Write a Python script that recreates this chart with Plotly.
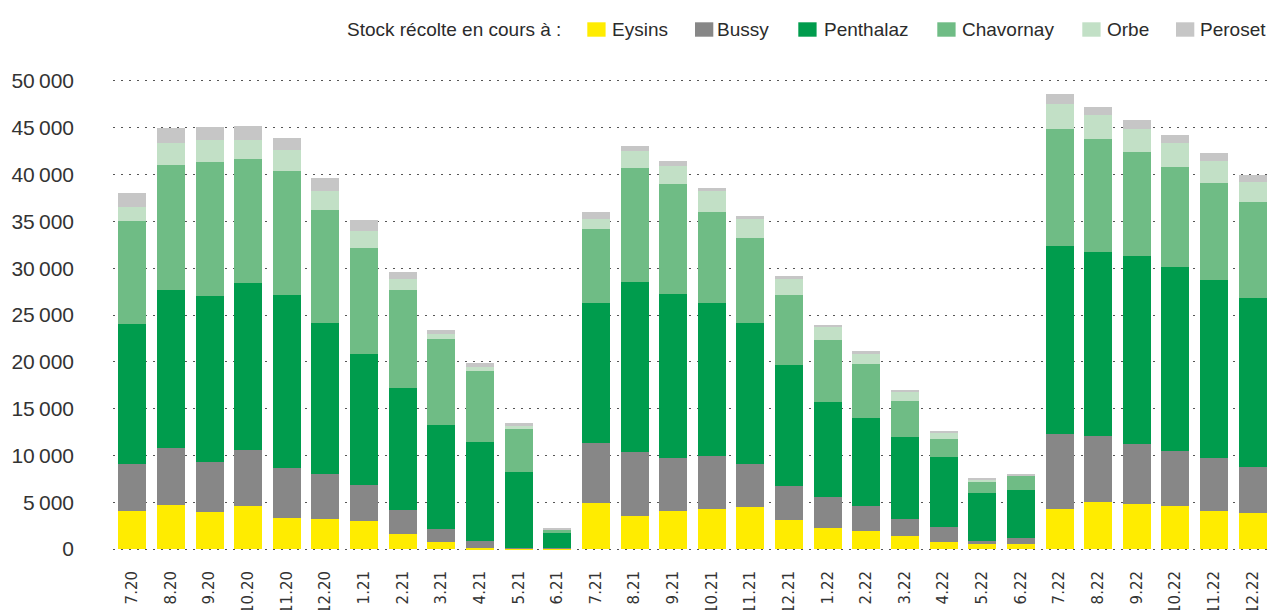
import plotly.graph_objects as go

months = ["7.20", "8.20", "9.20", "10.20", "11.20", "12.20", "1.21", "2.21", "3.21", "4.21", "5.21", "6.21",
          "7.21", "8.21", "9.21", "10.21", "11.21", "12.21", "1.22", "2.22", "3.22", "4.22", "5.22", "6.22",
          "7.22", "8.22", "9.22", "10.22", "11.22", "12.22"]

eysins = [4020, 4660, 3920, 4560, 3280, 3170, 2960, 1570, 710, 150, 50, 50,
          4880, 3490, 4020, 4240, 4450, 3060, 2210, 1890, 1350, 710, 500, 500,
          4240, 4980, 4770, 4560, 4020, 3810]
bussy = [5020, 6190, 5340, 5980, 5340, 4800, 3840, 2560, 1390, 670, 50, 50,
         6410, 6830, 5660, 5660, 4590, 3630, 3310, 2670, 1820, 1600, 320, 640,
         8010, 7050, 6410, 5870, 5660, 4910]
penthalaz = [14950, 16870, 17730, 17830, 18480, 16130, 13990, 13030, 11110, 10570, 8090, 1570,
             14950, 18160, 17520, 16340, 15060, 12930, 10140, 9400, 8760, 7480, 5130, 5130,
             20070, 19650, 20080, 19650, 19010, 18050]
chavornay = [11010, 13350, 14310, 13250, 13240, 12070, 11320, 10470, 9180, 7590, 4590, 430,
             7900, 12180, 11750, 9720, 9080, 7470, 6630, 5760, 3840, 1920, 1170, 1600,
             12500, 12070, 11100, 10680, 10360, 10250]
orbe = [1490, 2350, 2350, 2030, 2240, 2030, 1820, 1170, 540, 420, 430, 40,
        1070, 1810, 1920, 2240, 2130, 1820, 1380, 1180, 1070, 750, 320, 30,
        2670, 2560, 2460, 2560, 2350, 2140]
peroset = [1500, 1500, 1390, 1500, 1280, 1390, 1170, 750, 430, 430, 210, 70,
           750, 540, 530, 320, 210, 210, 220, 210, 110, 110, 50, 80,
           1070, 860, 960, 860, 850, 750]

series_names = ["Eysins", "Bussy", "Penthalaz", "Chavornay", "Orbe", "Peroset"]
series_values = [eysins, bussy, penthalaz, chavornay, orbe, peroset]
series_colors = ["#FFEC00", "#878787", "#009C4D", "#6FBC85", "#C2E0C6", "#C6C6C6"]

legend_title = "Stock récolte en cours à :"

y_tickvals = [0, 5000, 10000, 15000, 20000, 25000, 30000, 35000, 40000, 45000, 50000]
y_ticktext = ["0", "5\u2009000", "10\u2009000", "15\u2009000", "20\u2009000", "25\u2009000",
              "30\u2009000", "35\u2009000", "40\u2009000", "45\u2009000", "50\u2009000"]

W, H = 1272, 610
ML, MR, MT, MB = 113, 0, 79, 59
PW, PH = W - ML - MR, H - MT - MB
TEXT_FONT = "Liberation Sans"


def px_x(px):
    return (px - ML) / PW


def px_y(py):
    return (H - MB - py) / PH


fig = go.Figure()
for name, vals, col in zip(series_names, series_values, series_colors):
    fig.add_trace(go.Bar(x=months, y=vals, name=name, marker=dict(color=col, line=dict(width=0)),
                         showlegend=False, hoverinfo="skip"))

# custom legend (swatches + labels) placed like the original
sw_left = [587.3, 695.0, 798.3, 937.3, 1082.3, 1176.0]
txt_left = [610.0, 714.5, 821.5, 959.5, 1104.5, 1197.5]
sw_w, sw_top, sw_bot = 18.3, 22.3, 36.7
shapes = []
annotations = []
for name, col, sx, tx in zip(series_names, series_colors, sw_left, txt_left):
    shapes.append(dict(type="rect", xref="paper", yref="paper",
                       x0=px_x(sx), x1=px_x(sx + sw_w), y0=px_y(sw_bot), y1=px_y(sw_top),
                       fillcolor=col, line=dict(width=0)))
    annotations.append(dict(text=name, xref="paper", yref="paper", x=px_x(tx), y=px_y(29.8),
                            xanchor="left", yanchor="middle", showarrow=False,
                            font=dict(family=TEXT_FONT, size=19, color="#2b2b2b")))
annotations.append(dict(text=legend_title, xref="paper", yref="paper", x=px_x(563), y=px_y(29.8),
                        xanchor="right", yanchor="middle", showarrow=False,
                        font=dict(family=TEXT_FONT, size=19, color="#2b2b2b")))

fig.update_layout(
    width=W, height=H,
    margin=dict(l=ML, r=MR, t=MT, b=MB, pad=0, autoexpand=False),
    barmode="stack",
    bargap=0.275,
    plot_bgcolor="white",
    paper_bgcolor="white",
    showlegend=False,
    shapes=shapes,
    annotations=annotations,
    xaxis=dict(type="category", range=[-0.5, 29.5], showgrid=False, zeroline=False, showline=False,
               automargin=False,
               tickangle=-90, ticks="", ticklabelstandoff=16, ticklabelshift=0,
               tickfont=dict(family="DejaVu Sans", size=15, color="#333333")),
    yaxis=dict(range=[-200, 50200], tickvals=y_tickvals, ticktext=y_ticktext, automargin=False,
               showgrid=True, gridcolor="#555555", gridwidth=1.3, griddash="1.5px,6.5px",
               zeroline=False, showline=False, ticks="", ticklabelstandoff=38,
               tickfont=dict(family=TEXT_FONT, size=21, color="#333333")),
)

fig.write_html("out.html", config={"displayModeBar": False},
               post_script="document.body.style.margin='0';document.body.style.overflow='hidden';")
